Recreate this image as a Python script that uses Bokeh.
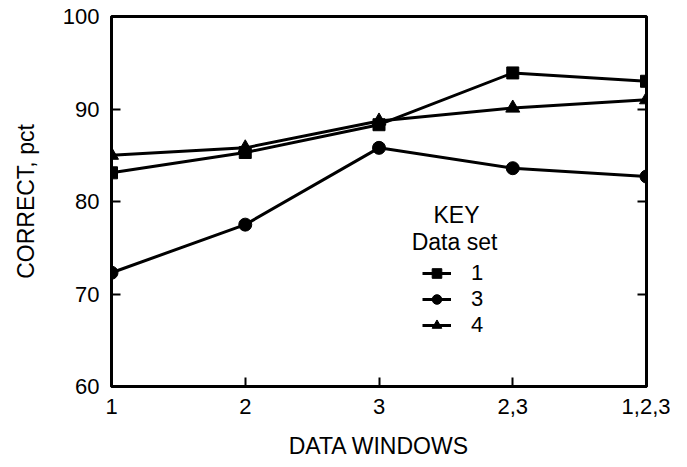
from bokeh.plotting import figure
from bokeh.models import (Range1d, FixedTicker, LinearAxis, Legend, LegendItem, Label)
from bokeh.embed import file_html
from bokeh.resources import INLINE

# ---- data ----
windows = [1, 2, 3, 4, 5]
window_labels = ["1", "2", "3", "2,3", "1,2,3"]
set1 = [83.1, 85.3, 88.3, 93.9, 93.0]
set3 = [72.3, 77.5, 85.8, 83.6, 82.7]
set4 = [85.0, 85.8, 88.7, 90.1, 91.0]
y_ticks = [60, 70, 80, 90, 100]

FONT = "Liberation Sans"

p = figure(frame_width=535, frame_height=370, output_backend="svg", toolbar_location=None,
           x_range=Range1d(1, 5), y_range=Range1d(60, 100),
           x_axis_location=None, y_axis_location=None)
p.min_border_left = 111
p.min_border_top = 16
p.min_border_right = 24
p.min_border_bottom = 70
p.xgrid.visible = False
p.ygrid.visible = False
p.outline_line_color = "black"
p.outline_line_width = 3
p.outline_line_alpha = 1.0
p.background_fill_color = "white"
p.border_fill_color = "white"

def style_axis(ax):
    ax.axis_line_width = 3
    ax.axis_line_color = "black"
    ax.major_tick_in = 9
    ax.major_tick_out = 0
    ax.major_tick_line_width = 2
    ax.minor_tick_line_color = None
    ax.major_label_text_font = FONT
    ax.major_label_text_font_size = "22px"
    ax.major_label_text_color = "black"
    ax.axis_label_text_font = FONT
    ax.axis_label_text_font_size = "23px"
    ax.axis_label_text_font_style = "normal"
    ax.axis_label_text_color = "black"

xa = LinearAxis(ticker=FixedTicker(ticks=windows), axis_label="DATA WINDOWS")
xa.major_label_overrides = {w: l for w, l in zip(windows, window_labels)}
style_axis(xa)
xa.major_label_standoff = 12
xa.axis_label_standoff = 16
p.add_layout(xa, "below")

ya = LinearAxis(ticker=FixedTicker(ticks=y_ticks), axis_label="CORRECT, pct")
style_axis(ya)
ya.major_label_standoff = 12
ya.axis_label_standoff = 21
p.add_layout(ya, "left")

ra = LinearAxis(ticker=FixedTicker(ticks=y_ticks))
style_axis(ra)
ra.major_label_overrides = {t: "" for t in y_ticks}
ra.major_label_standoff = 0
p.add_layout(ra, "right")

lw = 3
l1 = p.line(windows, set1, line_color="black", line_width=lw)
m1 = p.scatter(windows, set1, marker="square", size=12, color="black")
l3 = p.line(windows, set3, line_color="black", line_width=lw)
m3 = p.scatter(windows, set3, marker="circle", size=13, color="black")
l4 = p.line(windows, set4, line_color="black", line_width=lw)
m4 = p.scatter(windows, set4, marker="triangle", size=14, color="black")

legend = Legend(items=[
    LegendItem(label="1", renderers=[l1, m1]),
    LegendItem(label="3", renderers=[l3, m3]),
    LegendItem(label="4", renderers=[l4, m4]),
], location=(311, 48))
legend.border_line_color = None
legend.background_fill_alpha = 0
legend.padding = 0
legend.margin = 0
legend.spacing = 0
legend.glyph_width = 29
legend.glyph_height = 24
legend.label_height = 24
legend.label_standoff = 20
legend.label_text_font = FONT
legend.label_text_font_size = "22px"
legend.label_text_color = "black"
legend.label_text_baseline = "middle"
legend.label_text_line_height = 1.0
p.add_layout(legend, "center")

p.add_layout(Label(x=345, y=172, x_units="screen", y_units="screen", text="KEY",
                   text_font=FONT, text_font_size="23px", text_align="center",
                   text_baseline="middle", text_color="black"))
p.add_layout(Label(x=343, y=145, x_units="screen", y_units="screen", text="Data set",
                   text_font=FONT, text_font_size="23px", text_align="center",
                   text_baseline="middle", text_color="black"))

open("out.html", "w").write(file_html(p, INLINE))
